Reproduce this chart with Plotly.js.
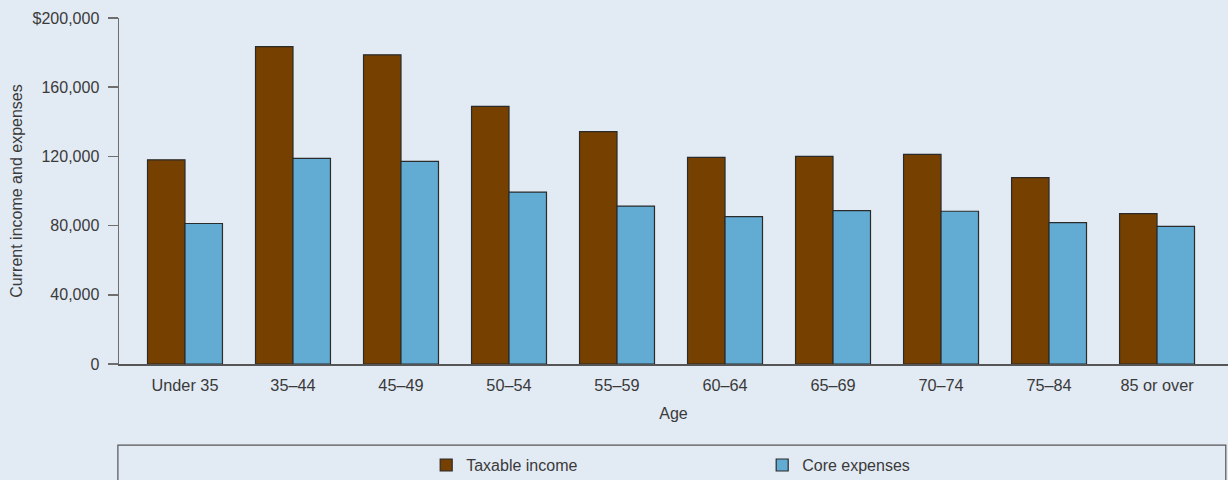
<!DOCTYPE html>
<html>
<head>
<meta charset="utf-8">
<script src="https://cdn.plot.ly/plotly-3.0.1.min.js"></script>
<style>
  html, body { margin: 0; padding: 0; background: #e2eaf4; }
  #chart { width: 1228px; height: 480px; }
</style>
</head>
<body>
<div id="chart"></div>
<script>
// Age groups along the horizontal axis
const ageGroups = ["Under 35", "35\u201344", "45\u201349", "50\u201354", "55\u201359",
                   "60\u201364", "65\u201369", "70\u201374", "75\u201384", "85 or over"];

// Average household amounts, dollars
const taxableIncome = [118000, 183500, 178700, 148900, 134300, 119400, 120000, 121200, 107700, 86900];
const coreExpenses  = [81200, 118900, 117100, 99400, 91300, 85200, 88700, 88300, 81700, 79600];

// Vertical axis ticks
const yTickVals = [0, 40000, 80000, 120000, 160000, 200000];
const yTickText = ["0", "40,000", "80,000", "120,000", "160,000", "$200,000"];

const seriesNames = ["Taxable income", "Core expenses"];
const seriesColors = ["#764000", "#62acd3"];

const FONT = '"Liberation Sans", Arial, sans-serif';
const TEXT = "#3a3a3a";

const traces = [taxableIncome, coreExpenses].map((vals, i) => ({
  type: "bar",
  name: seriesNames[i],
  x: ageGroups,
  y: vals,
  marker: { color: seriesColors[i], line: { color: "#2b2b2b", width: 1.2 } },
  hoverinfo: "x+y+name"
}));

const layout = {
  width: 1228,
  height: 480,
  margin: { l: 119, r: 0, t: 17.5, b: 116, autoexpand: false },
  paper_bgcolor: "#e2eaf4",
  plot_bgcolor: "#e2eaf4",
  font: { family: FONT, size: 16, color: TEXT },
  barmode: "group",
  bargap: 0.306,
  bargroupgap: 0,
  xaxis: {
    type: "category",
    range: [-0.611, 9.657],
    showline: true,
    linecolor: "#555555",
    linewidth: 1.5,
    ticks: "",
    showgrid: false,
    zeroline: false,
    tickfont: { family: FONT, size: 16.3, color: TEXT },
    ticklabelstandoff: 6,
    title: { text: "Age", font: { family: FONT, size: 16, color: TEXT }, standoff: 14 },
    automargin: false,
    fixedrange: true
  },
  yaxis: {
    range: [0, 200000],
    tickmode: "array",
    tickvals: yTickVals,
    ticktext: yTickText,
    showline: true,
    linecolor: "#6e6e6e",
    linewidth: 1.5,
    ticks: "outside",
    ticklen: 10,
    tickwidth: 1.5,
    tickcolor: "#6e6e6e",
    showgrid: false,
    zeroline: false,
    tickfont: { family: FONT, size: 16, color: TEXT },
    ticklabelstandoff: 5,
    title: { text: "Current income and expenses", font: { family: FONT, size: 16, color: TEXT }, standoff: 6 },
    automargin: false,
    fixedrange: true
  },
  showlegend: true,
  legend: {
    orientation: "h",
    x: 0.277,
    xanchor: "left",
    xref: "paper",
    y: 0.031,
    yanchor: "middle",
    yref: "container",
    entrywidth: 291,
    entrywidthmode: "pixels",
    bgcolor: "rgba(0,0,0,0)",
    borderwidth: 0,
    font: { family: FONT, size: 16, color: TEXT },
    traceorder: "normal"
  },
  shapes: [{
    type: "rect",
    xref: "paper", yref: "paper",
    x0: -0.001, x1: 0.998,
    y0: -0.2345, y1: -0.6,
    line: { color: "#555555", width: 1.2 },
    fillcolor: "rgba(0,0,0,0)",
    layer: "below"
  }]
};

Plotly.newPlot("chart", traces, layout, { displayModeBar: false, staticPlot: true });
</script>
</body>
</html>
